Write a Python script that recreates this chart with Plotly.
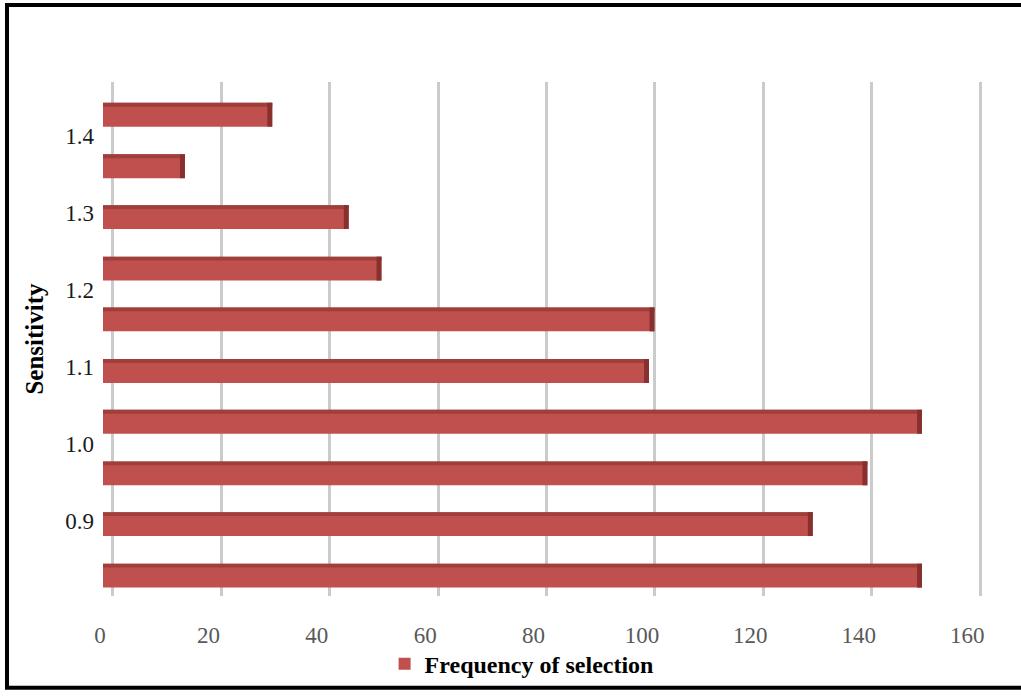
import plotly.graph_objects as go

# ---- data ----
sensitivity = [0.829, 0.896, 0.962, 1.029, 1.095, 1.162, 1.228, 1.295, 1.361, 1.428]
frequency = [150, 130, 140, 150, 100, 101, 51, 45, 15, 31]
y_tick_vals = [0.9, 1.0, 1.1, 1.2, 1.3, 1.4]
y_tick_text = ["0.9", "1.0", "1.1", "1.2", "1.3", "1.4"]
x_tick_vals = [0, 20, 40, 60, 80, 100, 120, 140, 160]
x_tick_text = ["0", "20", "40", "60", "80", "100", "120", "140", "160"]
series_name = "Frequency of selection"

# ---- style ----
W, H = 1021, 698
ML, MR, MT, MB = 95, 21, 82, 95
BAR_RED = "#c0504d"
TOP_RED = "#9e3f3c"
SIDE_RED = "#87302e"
FONT = "Liberation Serif"
bar_w = 0.031
side_len = 0.9
top_w = 0.005

fig = go.Figure()

# invisible anchor trace for the main (grid + labels) axis
fig.add_trace(go.Scatter(x=[0], y=[1.0], mode="markers", marker=dict(opacity=0),
                         hoverinfo="skip", showlegend=False, xaxis="x", yaxis="y"))

# main bar faces
fig.add_trace(go.Bar(
    x=frequency, y=sensitivity, orientation="h", width=bar_w,
    marker=dict(color=BAR_RED, line=dict(width=0)),
    name="<b>" + series_name + "</b>", xaxis="x2", yaxis="y", showlegend=True,
))
# darker top edge of each bar
fig.add_trace(go.Bar(
    x=frequency, y=sensitivity, orientation="h", width=top_w,
    offset=bar_w / 2 - top_w,
    marker=dict(color=TOP_RED, line=dict(width=0)),
    xaxis="x2", yaxis="y", showlegend=False, hoverinfo="skip",
))
# darker right side face of each bar
fig.add_trace(go.Bar(
    x=[side_len] * len(frequency), base=[v - side_len for v in frequency],
    y=sensitivity, orientation="h", width=bar_w,
    marker=dict(color=SIDE_RED, line=dict(width=0)),
    xaxis="x2", yaxis="y", showlegend=False, hoverinfo="skip",
))

fig.update_layout(
    width=W, height=H,
    margin=dict(l=ML, r=MR, t=MT, b=MB, pad=0),
    paper_bgcolor="white", plot_bgcolor="white",
    barmode="overlay",
    font=dict(family=FONT, color="#262626"),
    xaxis=dict(
        range=[-3.32, 163.66],
        tickvals=x_tick_vals, ticktext=x_tick_text,
        showgrid=True, gridcolor="#cbcbcb", gridwidth=3,
        zeroline=False, showline=False, ticks="",
        ticklabelshift=-13, ticklabelstandoff=23,
        tickfont=dict(family=FONT, size=23, color="#595959"),
        fixedrange=True,
    ),
    xaxis2=dict(
        overlaying="x", anchor="y",
        range=[-1.465, 164.29],
        showgrid=False, zeroline=False, showline=False,
        showticklabels=False, ticks="", visible=False,
    ),
    yaxis=dict(
        range=[0.8026, 1.4705],
        tickvals=y_tick_vals, ticktext=y_tick_text,
        showgrid=False, zeroline=False, showline=False, ticks="",
        tickfont=dict(family=FONT, size=23, color="#1a1a1a"),
        title=dict(text="<b>Sensitivity</b>", standoff=14,
                   font=dict(family=FONT, size=25, color="#000000")),
    ),
    legend=dict(
        orientation="h", x=0.32, xanchor="left", y=-0.1324, yanchor="middle",
        font=dict(family=FONT, size=24, color="#000000"),
        bgcolor="rgba(0,0,0,0)", itemwidth=30,
    ),
    shapes=[dict(
        type="rect", xref="paper", yref="paper",
        x0=(7 - ML) / (W - ML - MR), x1=(1030 - ML) / (W - ML - MR),
        y0=(H - MB - 696) / (H - MT - MB), y1=(H - MB - 4) / (H - MT - MB),
        line=dict(color="black", width=4), fillcolor="rgba(0,0,0,0)", layer="above",
    )],
)

fig.write_html("out.html")
